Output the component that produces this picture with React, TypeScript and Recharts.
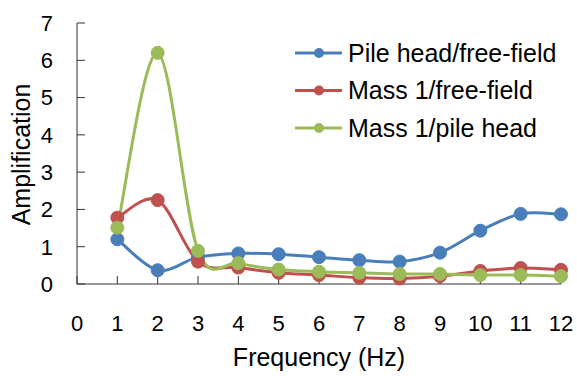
import React from 'react';
import { LineChart, Line, XAxis, YAxis, Legend, Label } from 'recharts';

// Frequency (Hz) and amplification ratios
const frequency = [1, 2, 3, 4, 5, 6, 7, 8, 9, 10, 11, 12];
const pileHeadFreeField = [1.2, 0.37, 0.72, 0.82, 0.8, 0.72, 0.64, 0.6, 0.84, 1.43, 1.88, 1.87];
const mass1FreeField = [1.78, 2.25, 0.6, 0.44, 0.3, 0.24, 0.17, 0.15, 0.21, 0.35, 0.43, 0.38];
const mass1PileHead = [1.51, 6.2, 0.89, 0.56, 0.39, 0.33, 0.3, 0.27, 0.27, 0.24, 0.24, 0.21];

const xTicks = [0, 1, 2, 3, 4, 5, 6, 7, 8, 9, 10, 11, 12];
const yTicks = [0, 1, 2, 3, 4, 5, 6, 7];

const series = [
  { key: 'pile', name: 'Pile head/free-field', color: '#4A7EBB', values: pileHeadFreeField },
  { key: 'mass', name: 'Mass 1/free-field', color: '#C0504D', values: mass1FreeField },
  { key: 'ratio', name: 'Mass 1/pile head', color: '#9BBB59', values: mass1PileHead },
];

const data = frequency.map((f, i) => {
  const row: Record<string, number> = { f };
  series.forEach((s) => (row[s.key] = s.values[i]));
  return row;
});

const FONT = '"Liberation Sans", Arial, sans-serif';

// Excel-style smoothed line (Catmull-Rom through the points)
const excelSmooth = (context: any) => {
  let pts: number[][] = [];
  return {
    areaStart() {},
    areaEnd() {},
    lineStart() {
      pts = [];
    },
    point(x: number, y: number) {
      pts.push([+x, +y]);
    },
    lineEnd() {
      if (!pts.length) return;
      context.moveTo(pts[0][0], pts[0][1]);
      for (let i = 0; i < pts.length - 1; i++) {
        const p0 = pts[i - 1] || pts[i];
        const p1 = pts[i];
        const p2 = pts[i + 1];
        const p3 = pts[i + 2] || p2;
        context.bezierCurveTo(
          p1[0] + (p2[0] - p0[0]) / 6,
          p1[1] + (p2[1] - p0[1]) / 6,
          p2[0] - (p3[0] - p1[0]) / 6,
          p2[1] - (p3[1] - p1[1]) / 6,
          p2[0],
          p2[1]
        );
      }
    },
  };
};

// legend keeps the series order (recharts would sort it by name)
const LegendBox = () => (
  <svg width={290} height={120} style={{ overflow: 'visible' }}>
    {series.map((s, i) => {
      const y = 23 + i * 37.5;
      return (
        <g key={s.key}>
          <line x1={5} x2={52} y1={y} y2={y} stroke={s.color} strokeWidth={3} />
          <circle cx={29} cy={y} r={5} fill={s.color} />
          <text x={58} y={y + 8.5} fontSize={25} fontFamily={FONT} fill="#000">
            {s.name}
          </text>
        </g>
      );
    })}
  </svg>
);

const App = () => {
  return (
    <div style={{ position: 'absolute', left: 0, top: 0, width: 577, height: 376, background: '#fff' }}>
      <LineChart width={577} height={376} data={data} margin={{ top: 23, right: 16, left: 0, bottom: 0 }}>
        <XAxis
          dataKey="f"
          type="number"
          domain={[0, 12]}
          ticks={xTicks}
          interval={0}
          height={92}
          stroke="#333"
          tickSize={-8}
          tickMargin={39}
          tick={{ fill: '#000', fontSize: 22, fontFamily: FONT }}
        >
          <Label
            value="Frequency (Hz)"
            position="insideBottom"
            offset={10}
            style={{ fill: '#000', fontSize: 25, fontFamily: FONT }}
          />
        </XAxis>
        <YAxis
          type="number"
          domain={[0, 7]}
          ticks={yTicks}
          interval={0}
          width={77}
          stroke="#333"
          tickSize={-8}
          tickMargin={32}
          tick={{ fill: '#000', fontSize: 22, fontFamily: FONT }}
        >
          <Label
            content={(p: any) => {
              const vb = p.viewBox || { x: 0, y: 23, height: 261 };
              const cx = vb.x + 30;
              const cy = vb.y + vb.height / 2 + 1;
              return (
                <text
                  x={cx}
                  y={cy}
                  transform={`rotate(-90 ${cx} ${cy})`}
                  textAnchor="middle"
                  fontSize={25}
                  fontFamily={FONT}
                  fill="#000"
                >
                  Amplification
                </text>
              );
            }}
          />
        </YAxis>
        <Legend
          layout="horizontal"
          verticalAlign="middle"
          align="center"
          content={<LegendBox />}
          wrapperStyle={{ top: 30, left: 290, width: 290, height: 120 }}
        />
        {series.map((s) => (
          <Line
            key={s.key}
            dataKey={s.key}
            name={s.name}
            type={excelSmooth as any}
            stroke={s.color}
            strokeWidth={3}
            dot={{ r: 6.5, fill: s.color, stroke: s.color, strokeWidth: 1 }}
            activeDot={false}
            isAnimationActive={false}
          />
        ))}
      </LineChart>
    </div>
  );
};

export default App;
